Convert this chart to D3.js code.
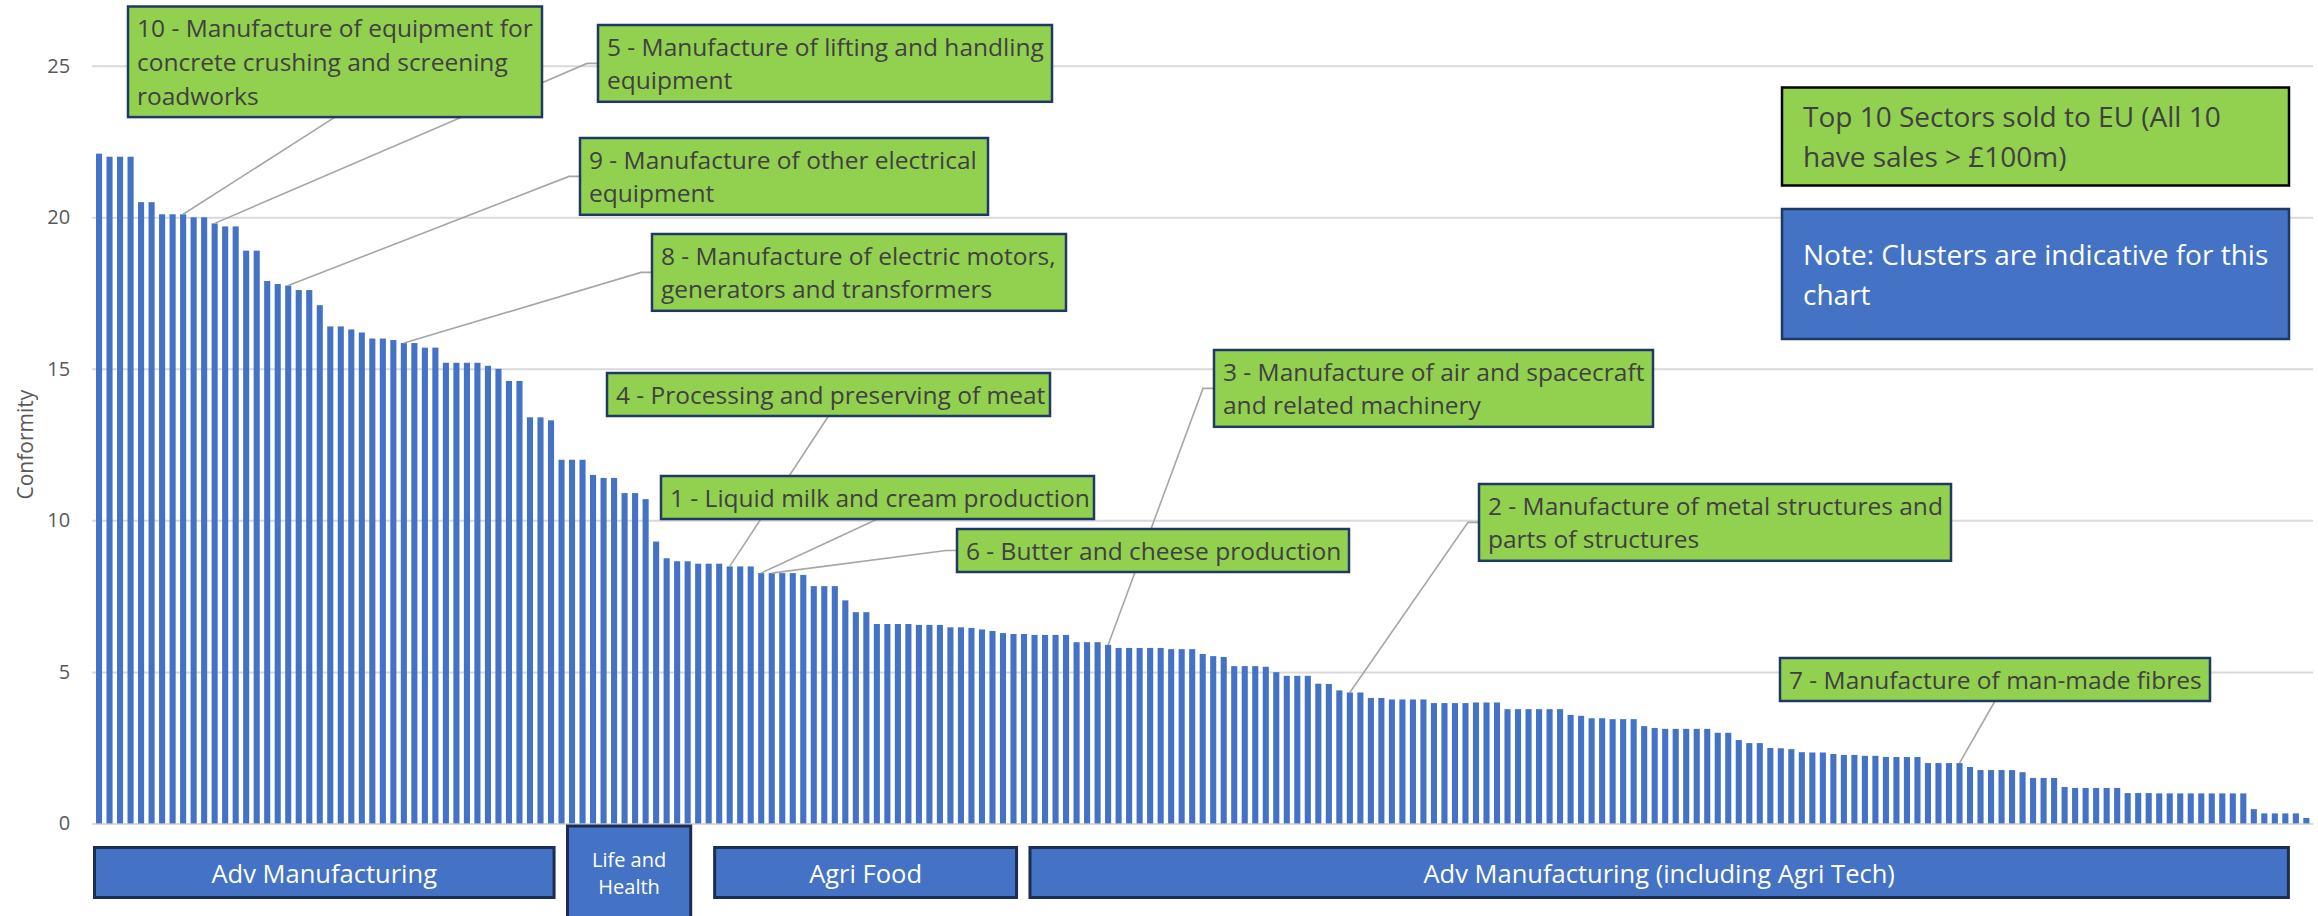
<!DOCTYPE html>
<html>
<head>
<meta charset="utf-8">
<script src="https://cdn.jsdelivr.net/npm/d3@7"></script>
<style>
  html, body { margin: 0; padding: 0; background: #ffffff; overflow: hidden; }
  svg { display: block; font-family: "Open Sans", "Noto Sans", sans-serif; }
</style>
</head>
<body>
<svg id="chart" width="2318" height="916"></svg>
<script>
// Conformity score per sector, sorted from highest to lowest
const conformity = [
  22.1, 22.0, 22.0, 22.0, 20.5, 20.5, 20.1, 20.1, 20.1, 20.0,
  20.0, 19.8, 19.7, 19.7, 18.9, 18.9, 17.9, 17.8, 17.75, 17.6,
  17.6, 17.1, 16.4, 16.4, 16.3, 16.2, 16.0, 16.0, 15.95, 15.85,
  15.85, 15.7, 15.7, 15.2, 15.2, 15.2, 15.2, 15.1, 15.0, 14.6,
  14.6, 13.4, 13.4, 13.3, 12.0, 12.0, 12.0, 11.5, 11.4, 11.4,
  10.9, 10.9, 10.7, 9.3, 8.75, 8.65, 8.65, 8.57, 8.57, 8.57,
  8.48, 8.48, 8.48, 8.26, 8.26, 8.26, 8.26, 8.2, 7.83, 7.83,
  7.83, 7.36, 6.97, 6.97, 6.58, 6.58, 6.58, 6.58, 6.55, 6.55,
  6.55, 6.47, 6.47, 6.45, 6.4, 6.35, 6.28, 6.25, 6.25, 6.22,
  6.22, 6.22, 6.22, 5.98, 5.98, 5.98, 5.89, 5.79, 5.79, 5.79,
  5.79, 5.79, 5.75, 5.75, 5.75, 5.59, 5.52, 5.49, 5.19, 5.19,
  5.19, 5.17, 4.99, 4.87, 4.87, 4.87, 4.61, 4.6, 4.39, 4.32,
  4.32, 4.14, 4.14, 4.09, 4.09, 4.09, 4.09, 3.97, 3.97, 3.97,
  3.97, 3.99, 3.99, 3.99, 3.77, 3.77, 3.77, 3.77, 3.77, 3.77,
  3.58, 3.55, 3.47, 3.47, 3.44, 3.44, 3.44, 3.21, 3.15, 3.12,
  3.12, 3.12, 3.12, 3.12, 2.99, 2.99, 2.75, 2.65, 2.65, 2.49,
  2.48, 2.45, 2.35, 2.34, 2.34, 2.29, 2.26, 2.26, 2.23, 2.23,
  2.19, 2.19, 2.19, 2.19, 1.99, 1.99, 1.99, 1.99, 1.86, 1.76,
  1.76, 1.76, 1.76, 1.69, 1.5, 1.5, 1.5, 1.2, 1.17, 1.17,
  1.17, 1.17, 1.17, 1.0, 1.0, 1.0, 0.99, 0.99, 0.99, 0.99,
  0.99, 0.99, 0.99, 0.99, 0.99, 0.47, 0.33, 0.33, 0.33, 0.33,
  0.18
];
// Sector positions along the x axis (1-based rank)
const sectorRank = conformity.map((_, i) => i + 1);

const yTicks = [0, 5, 10, 15, 20, 25];
const yTitle = "Conformity";

// Top 10 sectors sold to the EU: rank, sector position, wrapped name
const topSectors = [
  { rank: 10, sector: 9,   lines: ["10 - Manufacture of equipment for", "concrete crushing and screening", "roadworks"] },
  { rank: 5,  sector: 12,  lines: ["5 - Manufacture of lifting and handling", "equipment"] },
  { rank: 9,  sector: 19,  lines: ["9 - Manufacture of other electrical", "equipment"] },
  { rank: 8,  sector: 30,  lines: ["8 - Manufacture of electric motors,", "generators and transformers"] },
  { rank: 4,  sector: 61,  lines: ["4 - Processing and preserving of meat"] },
  { rank: 1,  sector: 64,  lines: ["1 - Liquid milk and cream production"] },
  { rank: 6,  sector: 65,  lines: ["6 - Butter and cheese production"] },
  { rank: 3,  sector: 97,  lines: ["3 - Manufacture of air and spacecraft", "and related machinery"] },
  { rank: 2,  sector: 120, lines: ["2 - Manufacture of metal structures and", "parts of structures"] },
  { rank: 7,  sector: 178, lines: ["7 - Manufacture of man-made fibres"] }
];

// Clusters spanning ranges of sector positions
const clusterNames = [["Adv Manufacturing"], ["Life and", "Health"], ["Agri Food"], ["Adv Manufacturing (including Agri Tech)"]];
const clusterFrom = [1, 46, 60, 90];
const clusterTo   = [44, 57, 88, 209];

const legendNote = ["Top 10 Sectors sold to EU (All 10", "have sales > £100m)"];
const clusterNote = ["Note: Clusters are indicative for this", "chart"];

// ---- layout ----
const plotLeft = 92.2, plotRight = 2313.2, plotBottom = 823.4, plotTop = 65.8;

// Callout box placement, keyed by rank; leader leaves from the left or bottom edge midpoint
const calloutLayout = {
  10: { x: 128, y: 6.5,  w: 414, side: "bottom" },
  5:  { x: 598, y: 25,   w: 454, side: "left" },
  9:  { x: 580, y: 138,  w: 408, side: "left" },
  8:  { x: 652, y: 234,  w: 414, side: "left" },
  4:  { x: 607, y: 373,  w: 443, side: "bottom" },
  1:  { x: 661, y: 476,  w: 433, side: "bottom" },
  6:  { x: 957, y: 529,  w: 392, side: "left" },
  3:  { x: 1214, y: 350, w: 439, side: "left" },
  2:  { x: 1479, y: 484, w: 472, side: "left" },
  7:  { x: 1780, y: 658, w: 430, side: "bottom" }
};

const COL_BAR = "#4472C4";
const COL_GREEN = "#92D050";
const COL_NAVY = "#1F3864";
const COL_GRID = "#D9D9D9";
const COL_AXIS_TEXT = "#595959";
const COL_LEADER = "#A6A6A6";

const svg = d3.select("#chart");

const x = d3.scaleBand()
  .domain(sectorRank)
  .range([plotLeft, plotRight])
  .paddingInner(0.42)
  .paddingOuter(0.36);

const y = d3.scaleLinear().domain([0, 25]).range([plotBottom, plotTop]);

// gridlines and tick labels
const yAxis = d3.axisLeft(y)
  .tickValues(yTicks)
  .tickSize(-(plotRight - plotLeft))
  .tickPadding(22)
  .tickFormat(d3.format("d"));

const gAxis = svg.append("g")
  .attr("transform", `translate(${plotLeft},0)`)
  .call(yAxis);
gAxis.select(".domain").remove();
gAxis.selectAll(".tick line").attr("stroke", COL_GRID).attr("stroke-width", 2);
gAxis.selectAll(".tick text")
  .attr("fill", COL_AXIS_TEXT)
  .attr("font-size", 20)
  .attr("font-family", "'Open Sans', 'Noto Sans', sans-serif");

// axis title
svg.append("text")
  .attr("transform", `translate(25, ${(plotTop + plotBottom) / 2}) rotate(-90)`)
  .attr("text-anchor", "middle")
  .attr("dominant-baseline", "central")
  .attr("font-size", 21)
  .attr("fill", COL_AXIS_TEXT)
  .text(yTitle);

// bars
svg.append("g")
  .selectAll("rect")
  .data(conformity)
  .join("rect")
  .attr("x", (d, i) => x(sectorRank[i]))
  .attr("y", d => y(d))
  .attr("width", x.bandwidth())
  .attr("height", d => y(0) - y(d))
  .attr("fill", COL_BAR);

// callouts
const LINE_STEP = 33.8, FIRST_BASE = 30.5, PAD_X = 9, FONT_CALLOUT = 24.5;
const boxHeight = n => 43 + (n - 1) * LINE_STEP;

const gLeaders = svg.append("g");
const gBoxes = svg.append("g");

topSectors.forEach(s => {
  const L = calloutLayout[s.rank];
  const h = boxHeight(s.lines.length);
  const idx = s.sector - 1;
  const px = x(sectorRank[idx]) + x.bandwidth() / 2;
  const py = y(conformity[idx]);
  let pts;
  if (L.side === "left") {
    const ay = L.y + h / 2;
    pts = [[L.x, ay], [L.x - 11, ay], [px, py]];
  } else {
    const ax = L.x + L.w / 2;
    pts = [[ax, L.y + h], [px, py]];
  }
  gLeaders.append("path")
    .attr("d", d3.line()(pts))
    .attr("fill", "none")
    .attr("stroke", COL_LEADER)
    .attr("stroke-width", 1.6);

  gBoxes.append("rect")
    .attr("x", L.x).attr("y", L.y)
    .attr("width", L.w).attr("height", h)
    .attr("fill", COL_GREEN)
    .attr("stroke", COL_NAVY)
    .attr("stroke-width", 2.5);

  const t = gBoxes.append("text")
    .attr("font-size", FONT_CALLOUT)
    .attr("fill", "#404040");
  s.lines.forEach((ln, k) => {
    t.append("tspan")
      .attr("x", L.x + PAD_X)
      .attr("y", L.y + FIRST_BASE + k * LINE_STEP)
      .text(ln);
  });
});

// notes at top right
function noteBox(lines, top, h, firstBase, fill, stroke, color) {
  const bx = 1782, bw = 507;
  svg.append("rect")
    .attr("x", bx).attr("y", top).attr("width", bw).attr("height", h)
    .attr("fill", fill).attr("stroke", stroke).attr("stroke-width", 2.5);
  const t = svg.append("text").attr("font-size", 28).attr("fill", color);
  lines.forEach((ln, k) => {
    t.append("tspan").attr("x", bx + 21).attr("y", top + firstBase + k * 39.5).text(ln);
  });
}
noteBox(legendNote, 87.5, 98, 39.5, COL_GREEN, "#000000", "#404040");
noteBox(clusterNote, 209, 130, 56, COL_BAR, COL_NAVY, "#FFFFFF");

// cluster boxes beneath the axis
const gClusters = svg.append("g");
clusterNames.forEach((name, i) => {
  const x0 = x(sectorRank[clusterFrom[i] - 1]) - 1.5;
  const x1 = x(sectorRank[clusterTo[i] - 1]) + x.bandwidth();
  const tall = name.length > 1;
  const top = tall ? 826 : 847.5;
  const h = tall ? 110 : 50;
  gClusters.append("rect")
    .attr("x", x0).attr("y", top)
    .attr("width", x1 - x0).attr("height", h)
    .attr("fill", COL_BAR)
    .attr("stroke", "#1B2D52")
    .attr("stroke-width", 3);
  const t = gClusters.append("text")
    .attr("text-anchor", "middle")
    .attr("fill", "#FFFFFF")
    .attr("font-size", tall ? 20 : 25.5);
  name.forEach((ln, k) => {
    t.append("tspan")
      .attr("x", (x0 + x1) / 2)
      .attr("y", tall ? 866.5 + k * 27.5 : 882.5)
      .text(ln);
  });
});
</script>
</body>
</html>
